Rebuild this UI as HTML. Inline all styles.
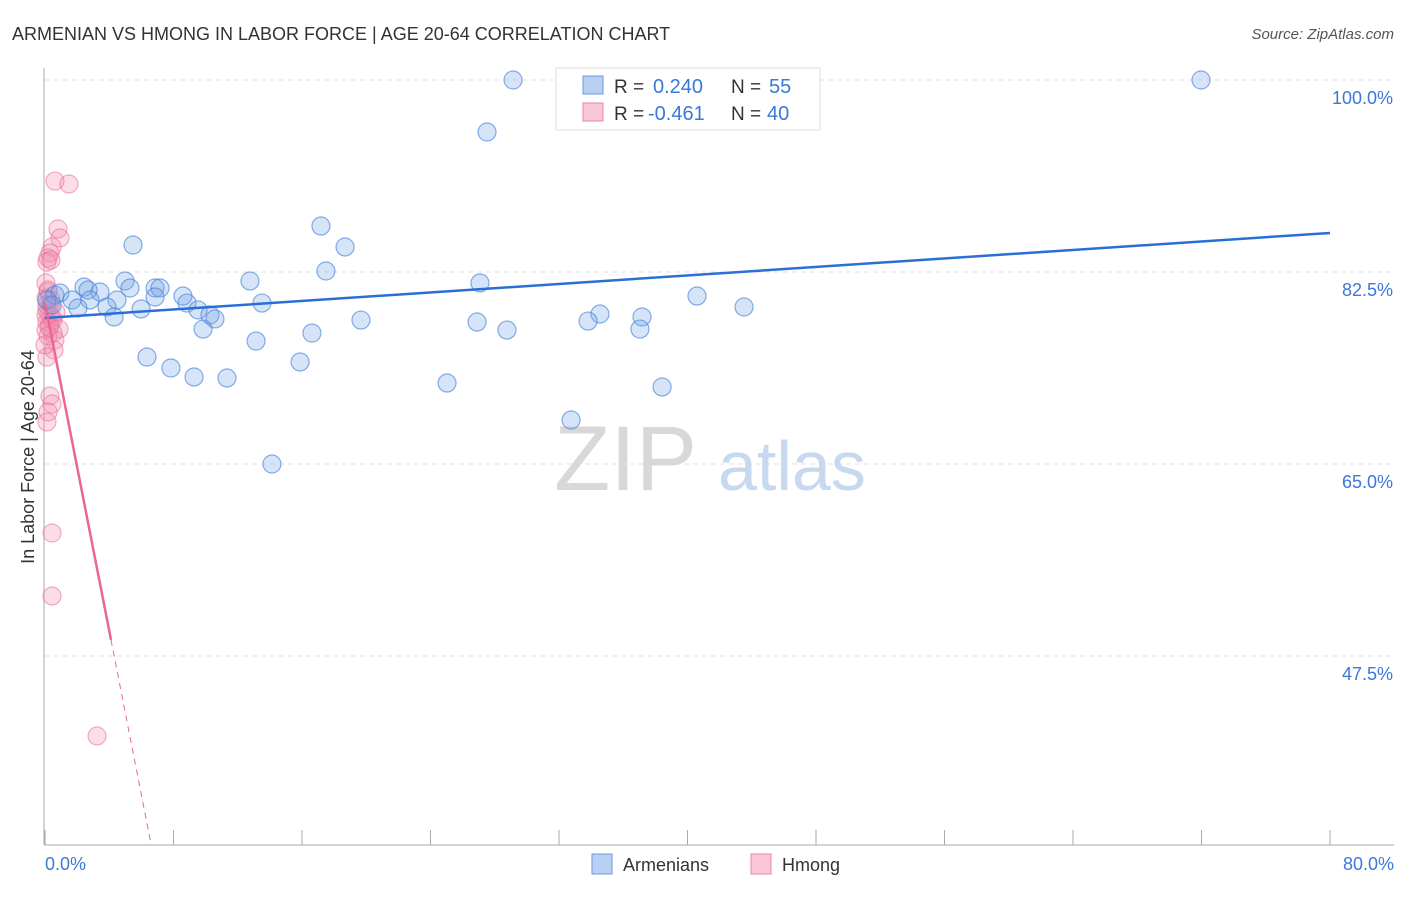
<!DOCTYPE html>
<html><head><meta charset="utf-8"><style>
body{margin:0;background:#fff;font-family:"Liberation Sans",sans-serif;}
svg text{font-family:"Liberation Sans",sans-serif;}
</style></head><body>
<svg id="chart" width="1406" height="892">
<text x="12" y="40" font-size="18" fill="#333">ARMENIAN VS HMONG IN LABOR FORCE | AGE 20-64 CORRELATION CHART</text>
<text x="1394" y="39" font-size="15" fill="#555" text-anchor="end" font-style="italic">Source: ZipAtlas.com</text>
<g id="grid"></g>
<line x1="44" y1="68" x2="44" y2="845" stroke="#aaa"/>
<line x1="44" y1="845" x2="1394" y2="845" stroke="#aaa"/>
<text x="554" y="490" font-size="92" fill="#d8d8d8" font-family="Liberation Serif">ZIP</text>
<text x="718" y="490" font-size="70" fill="#c8d8ef">atlas</text>
<text transform="translate(34,457) rotate(-90)" font-size="18" fill="#333" text-anchor="middle">In Labor Force | Age 20-64</text>
<text x="45" y="870" font-size="18" fill="#3b78d8">0.0%</text>
<text x="1394" y="870" font-size="18" fill="#3b78d8" text-anchor="end">80.0%</text>
<g id="points"></g>
<g id="lines"></g>
<g>
<rect x="556" y="68" width="264" height="62" fill="#fff" stroke="#ddd"/>
<rect x="583" y="76" width="20" height="18" fill="#b9d0f2" stroke="#6a9ae0"/>
<rect x="583" y="103" width="20" height="18" fill="#f8c6d6" stroke="#ea8aa8"/>
<text x="614" y="93" font-size="19" fill="#333">R =</text>
<text x="653" y="93" font-size="20" fill="#3b78d8">0.240</text>
<text x="731" y="93" font-size="19" fill="#333">N =</text>
<text x="769" y="93" font-size="20" fill="#3b78d8">55</text>
<text x="614" y="120" font-size="19" fill="#333">R =</text>
<text x="648" y="120" font-size="20" fill="#3b78d8">-0.461</text>
<text x="731" y="120" font-size="19" fill="#333">N =</text>
<text x="767" y="120" font-size="20" fill="#3b78d8">40</text>
</g>
<g>
<rect x="592" y="854" width="20" height="20" fill="#b9d0f2" stroke="#6a9ae0"/>
<text x="623" y="871" font-size="18" fill="#333">Armenians</text>
<rect x="751" y="854" width="20" height="20" fill="#f8c6d6" stroke="#ea8aa8"/>
<text x="782" y="871" font-size="18" fill="#333">Hmong</text>
</g>
</svg>
<script>
const yTicks=[100,82.5,65,47.5];
const xTicks=[0,8,16,24,32,40,48,56,64,72,80];
const armX=[29.14,71.97,27.52,17.18,18.68,5.48,17.49,12.76,27.08,4.98,2.43,6.85,7.16,3.42,2.68,5.29,0.62,0.93,1.68,2.80,4.48,6.85,8.59,8.84,40.59,13.51,2.05,3.86,5.98,9.53,43.52,10.27,10.58,4.30,34.55,19.67,26.90,33.81,37.17,9.84,16.62,28.76,37.04,13.14,6.35,15.88,7.84,9.28,11.33,25.03,38.42,32.75,14.13,0.12,0.44];
const armY=[100,100,95.26,86.69,84.78,84.96,82.59,81.68,81.50,81.68,81.13,81.04,81.04,80.68,80.86,81.04,80.40,80.59,79.95,79.95,79.95,80.22,80.31,79.67,80.31,79.67,79.22,79.31,79.13,79.04,79.31,78.58,78.22,78.40,78.67,78.12,77.94,78.03,78.40,77.30,76.94,77.21,77.30,76.21,74.75,74.30,73.75,72.93,72.84,72.38,72.02,69.01,65.00,79.95,79.49];
const hmX=[0.62,1.49,0.81,0.93,0.44,0.31,0.19,0.12,0.06,0.19,0.06,0.31,0.12,0.25,0.44,0.12,0.31,0.87,0.06,0.50,0.19,0.62,0.56,0.12,0.31,0.44,0.19,0.12,0.44,0.44,3.24,0.06,0.37,0.19,0.50,0,0.25,0.12,0.68,0.37];
const hmY=[90.79,90.52,86.42,85.60,84.78,84.23,83.78,83.41,81.50,80.68,80.13,79.49,79.04,78.67,78.31,77.94,77.67,77.30,77.21,76.94,76.67,76.30,75.39,74.75,71.20,70.47,69.74,68.83,58.71,52.97,40.21,78.58,79.95,80.86,78.12,75.85,77.48,79.49,78.85,83.59];
const armTrend=[78.31,86.06]; // y at x=0 and x=80
const hmTrend=[79.67,-7.47]; // intercept, slope per %
const hmSolidEnd=4.11, hmDashEnd=6.61;
const X=v=>45+v/80*1285;
const Y=v=>80+(100-v)/17.5*192;
const NS='http://www.w3.org/2000/svg';
function mk(tag,attrs,parent){const e=document.createElementNS(NS,tag);for(const k in attrs)e.setAttribute(k,attrs[k]);parent.appendChild(e);return e;}
const grid=document.getElementById('grid');
yTicks.forEach(t=>{
 const l=mk('line',{x1:45,x2:1394,y1:Y(t),y2:Y(t),stroke:'#e2e2e2','stroke-dasharray':'5,4'},grid);
 
 
 const tx=mk('text',{x:1393,y:Y(t)+24,'font-size':18,fill:'#3b78d8','text-anchor':'end'},grid);
 tx.textContent=t.toFixed(1)+'%';
 
 
});
xTicks.forEach(t=>{
 const l=mk('line',{x1:X(t),x2:X(t),y1:830,y2:845,stroke:'#aaa'},grid);
 
 
});
const pts=document.getElementById('points');
hmX.forEach((x,i)=>{
 const c=mk('circle',{cx:X(x),cy:Y(hmY[i]),r:9,fill:'rgba(244,143,177,0.3)',stroke:'rgba(232,110,150,0.55)','stroke-width':1.2},pts);
 
 
});
armX.forEach((x,i)=>{
 const c=mk('circle',{cx:X(x),cy:Y(armY[i]),r:9,fill:'rgba(120,165,230,0.3)',stroke:'rgba(70,130,220,0.65)','stroke-width':1.2},pts);
 
 
});
const ln=document.getElementById('lines');
const a=mk('line',{x1:X(0),y1:Y(armTrend[0]),x2:X(80),y2:Y(armTrend[1]),stroke:'#2a6fd6','stroke-width':2.5},ln);


const hy=x=>hmTrend[0]+hmTrend[1]*x;
const h=mk('line',{x1:X(0),y1:Y(hy(0)),x2:X(hmSolidEnd),y2:Y(hy(hmSolidEnd)),stroke:'#e8669a','stroke-width':2.5},ln);


const hd=mk('line',{x1:X(hmSolidEnd),y1:Y(hy(hmSolidEnd)),x2:X(hmDashEnd),y2:Y(hy(hmDashEnd)),stroke:'#e8669a','stroke-width':1,'stroke-dasharray':'6,5'},ln);


</script>
</body></html>
